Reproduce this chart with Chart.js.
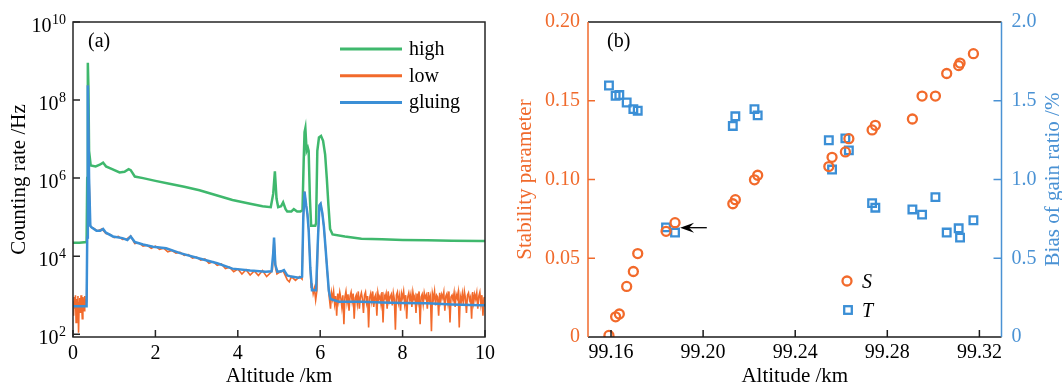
<!DOCTYPE html>
<html><head><meta charset="utf-8">
<script src="https://cdn.jsdelivr.net/npm/chart.js@4.4.0/dist/chart.umd.min.js"></script>
<style>
html,body{margin:0;padding:0;background:#fff;}
#wrap{position:relative;width:1062px;height:385px;overflow:hidden;}
#ca{position:absolute;left:0;top:0;}
#cb{position:absolute;left:500px;top:0;}
</style></head><body>
<div id="wrap"><canvas id="ca" width="500" height="385"></canvas><canvas id="cb" width="562" height="385"></canvas></div>
<script>
// ---------- Panel (a): counting rate vs altitude ----------
const altHigh = [0,0.15,0.33,0.345,0.36,0.375,0.39,0.43,0.55,0.65,0.73,0.8,0.95,1.13,1.25,1.35,1.4,1.5,1.7,2.0,2.34,2.7,3.07,3.5,3.87,4.3,4.6,4.8,4.86,4.9,4.94,4.98,5.05,5.1,5.16,5.2,5.3,5.36,5.44,5.52,5.57,5.6,5.62,5.64,5.67,5.70,5.72,5.75,5.78,5.88,5.90,5.93,5.97,6.02,6.07,6.12,6.16,6.20,6.24,6.30,6.6,7.0,7.5,8.0,8.6,9.2,9.9,10];
const rateHigh = [2.2e4,2.2e4,2.3e4,1e6,9e8,2e8,5e6,2.1e6,2.0e6,2.2e6,2.5e6,2.0e6,1.7e6,1.4e6,1.45e6,1.7e6,1.6e6,1.1e6,1.0e6,8.5e5,7.2e5,6.0e5,4.9e5,3.6e5,2.75e5,2.2e5,1.9e5,1.8e5,4e5,1.5e6,3e5,1.8e5,1.9e5,2.4e5,1.6e5,1.4e5,1.4e5,1.6e5,1.4e5,1.4e5,1.5e5,3e6,1.5e7,1.9e7,5e6,6e6,5e6,3e5,6e4,6e4,7e4,5e6,1.1e7,1.2e7,9e6,4e6,1e6,2e5,5e4,3.6e4,3.2e4,2.8e4,2.7e4,2.6e4,2.55e4,2.5e4,2.45e4,2.45e4];

const altLow = [0,0.015,0.03,0.045,0.06,0.075,0.09,0.105,0.12,0.135,0.15,0.165,0.18,0.195,0.21,0.225,0.24,0.255,0.27,0.285,0.30,0.315,0.33,
0.345,0.36,0.39,0.42,0.45,
0.5,0.6,0.7,0.8,0.9,1.0,1.1,1.2,1.3,1.4,1.5,1.6,1.7,1.8,1.9,2.0,2.1,2.2,2.3,2.4,2.5,2.6,2.7,2.8,2.9,3.0,3.1,3.2,3.3,3.4,3.5,3.6,3.7,3.8,3.9,4.0,4.1,4.2,4.3,4.4,4.5,4.6,4.7,4.8,
4.84,4.88,4.92,4.95,5.0,5.1,5.2,5.25,5.3,5.4,5.5,
5.56,5.59,5.62,5.66,5.69,5.72,5.76,5.78,5.80,5.83,5.86,5.89,5.92,5.94,5.98,6.01,6.05,6.09,6.13,6.17,6.21,
6.25,6.275,6.3,6.325,6.35,6.375,6.4,6.425,6.45,6.475,
6.5,6.525,6.55,6.575,6.6,6.625,6.65,6.675,6.7,6.725,
6.75,6.775,6.8,6.825,6.85,6.875,6.9,6.925,6.95,6.975,
7.0,7.025,7.05,7.075,7.1,7.125,7.15,7.175,7.2,7.225,
7.25,7.275,7.3,7.325,7.35,7.375,7.4,7.425,7.45,7.475,
7.5,7.525,7.55,7.575,7.6,7.625,7.65,7.675,7.7,7.725,
7.75,7.775,7.8,7.825,7.85,7.875,7.9,7.925,7.95,7.975,
8.0,8.025,8.05,8.075,8.1,8.125,8.15,8.175,8.2,8.225,
8.25,8.275,8.3,8.325,8.35,8.375,8.4,8.425,8.45,8.475,
8.5,8.525,8.55,8.575,8.6,8.625,8.65,8.675,8.7,8.725,
8.75,8.775,8.8,8.825,8.85,8.875,8.9,8.925,8.95,8.975,
9.0,9.025,9.05,9.075,9.1,9.125,9.15,9.175,9.2,9.225,
9.25,9.275,9.3,9.325,9.35,9.375,9.4,9.425,9.45,9.475,
9.5,9.525,9.55,9.575,9.6,9.625,9.65,9.675,9.7,9.725,
9.75,9.775,9.8,9.825,9.85,9.875,9.9,9.925,9.95,9.975,
10.0];
const rateLow = [700,300,900,450,1000,200,800,550,950,110,650,850,350,1000,600,250,900,700,400,950,550,800,650,
3e4,2.4e8,1e6,6e4,5.4e4,
5.2e4,4.4e4,5.0e4,3.8e4,3.6e4,3.0e4,3.2e4,2.7e4,2.75e4,3.3e4,2.1e4,2.2e4,1.8e4,1.9e4,1.6e4,1.8e4,1.5e4,1.6e4,1.3e4,1.4e4,1.2e4,1.26e4,1.05e4,1.1e4,8.9e3,9.5e3,7.9e3,8.5e3,6.6e3,7.2e3,5.8e3,6.3e3,4.8e3,5.2e3,4.0e3,4.7e3,3.5e3,4.5e3,3.3e3,4.2e3,3.2e3,4.3e3,3.0e3,3.8e3,
4.5e3,2.8e4,4.8e3,3.5e3,3.8e3,4.2e3,2.5e3,2.2e3,3.0e3,2.4e3,3.0e3,
2.6e3,1e5,4.5e5,2e5,1.2e5,4.7e4,5e3,1.6e3,2.0e3,1.1e3,1.5e3,7.5e2,1.3e3,2e4,2e5,2.2e5,1.3e5,5.6e4,1.6e4,4.4e3,1.1e3,
450,1150,800,1250,600,950,300,1100,700,1200,
850,500,1000,180,900,1250,650,1050,400,950,
1200,700,1100,250,850,1000,600,1250,450,900,
1150,800,350,1000,1200,650,950,150,850,1100,
700,1250,500,900,1050,300,1150,800,950,600,
1200,200,1000,850,1100,450,1250,700,900,1050,
550,1150,800,130,1000,1200,650,950,400,1100,
850,1250,600,1000,250,900,1150,750,1050,500,
1200,800,950,350,1100,700,1250,180,900,1050,
600,1150,850,1000,450,1200,750,950,120,1100,
800,1250,550,1000,900,300,1150,700,1050,850,
1200,400,950,1100,650,1250,200,900,1000,750,
1150,500,1050,850,1200,150,950,700,1100,600,
1250,850,350,1000,1150,750,900,250,1200,650,
1050,800,1150,450,950,1200,600,1000,300,850,
900];

const altGlue = [0,0.33,0.345,0.36,0.39,0.42,0.45,0.57,0.66,0.73,0.8,0.97,1.2,1.32,1.4,1.5,1.7,1.94,2.26,2.6,3.07,3.5,3.87,4.3,4.68,4.82,4.86,4.88,4.91,4.96,5.05,5.12,5.2,5.3,5.48,5.56,5.59,5.62,5.66,5.69,5.72,5.76,5.80,5.90,5.94,5.98,6.01,6.05,6.09,6.13,6.17,6.21,6.25,6.45,7.0,7.5,8.0,8.6,9.2,9.9,10];
const rateGlue = [520,520,3e4,2.4e8,1e6,6e4,5.5e4,4.5e4,4.5e4,5e4,4e4,3.2e4,2.9e4,2.6e4,3.2e4,2.3e4,2.0e4,1.75e4,1.6e4,1.2e4,8.7e3,6.6e3,4.8e3,4.3e3,4.0e3,4.1e3,1.2e4,3e4,6e3,4.0e3,4.1e3,4.4e3,3.2e3,3.0e3,2.8e3,3.0e3,1e5,4.5e5,2e5,1.2e5,4.7e4,5e3,1.35e3,1.35e3,2e4,2e5,2.2e5,1.3e5,5.6e4,1.6e4,4.4e3,1.3e3,8e2,6.8e2,6.8e2,6.5e2,6.3e2,6.2e2,5.8e2,5.5e2,5.5e2];

const seriesNamesA = ['high','low','gluing'];
const xTicksA = [0,2,4,6,8,10];
const yTicksA = [1e2,1e4,1e6,1e8,1e10];

// ---------- Panel (b): stability parameter and gain-ratio bias ----------
const altB = [99.1591,99.1620,99.1636,99.1668,99.1697,99.1716,99.1839,99.1878,99.2129,99.2140,99.2223,99.2237,99.2546,99.2560,99.2618,99.2633,99.2734,99.2748,99.2909,99.2951,99.3009,99.3058,99.3110,99.3116,99.3174];
const stabilityS = [0.001,0.0128,0.0146,0.0321,0.0416,0.0530,0.0671,0.0726,0.0846,0.0872,0.0998,0.1027,0.1082,0.1141,0.1175,0.1259,0.1315,0.1344,0.1384,0.1530,0.1530,0.1673,0.1723,0.1739,0.1799];
const biasT = [1.597,1.532,1.536,1.489,1.447,1.437,0.696,0.663,1.340,1.401,1.447,1.407,1.249,1.063,1.261,1.185,0.850,0.821,0.810,0.777,0.888,0.663,0.690,0.631,0.741];
const seriesNamesB = ['S','T'];
const xTicksB = [99.16,99.20,99.24,99.28,99.32];
const xTickLabelsB = ['99.16','99.20','99.24','99.28','99.32'];
const yTicksS = [0,0.05,0.10,0.15,0.20];
const yTickLabelsS = ['0','0.05','0.10','0.15','0.20'];
const yTicksT = [0,0.5,1.0,1.5,2.0];
const yTickLabelsT = ['0','0.5','1.0','1.5','2.0'];
const arrowFrom = [99.2016,0.0694];
const arrowTo = [99.1900,0.0694];

// ---------- styles ----------
const FONT = "'Liberation Serif','Times New Roman',serif";
const GREEN = '#3fb86d', ORANGE = '#f26a2b', BLUE = '#3b8fd6';
const AX_ORANGE = '#f06a2c', AX_BLUE = '#4a92d4';
Chart.defaults.font.family = FONT;

const pts = (xs, ys) => xs.map((x, i) => ({x, y: ys[i]}));

// ---------- chart (a) ----------
const decorA = {
  id: 'decorA',
  afterDraw(chart) {
    const {ctx, chartArea: a, scales: {x, y}} = chart;
    ctx.save();
    ctx.strokeStyle = '#262626'; ctx.lineWidth = 1.5;
    ctx.strokeRect(a.left, a.top, a.right - a.left, a.bottom - a.top);
    ctx.beginPath();
    xTicksA.forEach(v => { const p = x.getPixelForValue(v); ctx.moveTo(p, a.bottom); ctx.lineTo(p, a.bottom - 7); });
    yTicksA.forEach(v => { const p = y.getPixelForValue(v); ctx.moveTo(a.left, p); ctx.lineTo(a.left + 7, p); });
    ctx.stroke();
    // log tick labels 10^n
    ctx.fillStyle = '#000'; ctx.textBaseline = 'alphabetic'; ctx.textAlign = 'right';
    yTicksA.forEach(v => {
      const p = y.getPixelForValue(v);
      const e = String(Math.round(Math.log10(v)));
      ctx.font = '14px ' + FONT;
      const ew = ctx.measureText(e).width;
      const r = a.left - 7;
      ctx.fillText(e, r, p + 2);
      ctx.font = '20px ' + FONT;
      ctx.fillText('10', r - ew - 0.5, p + 10);
    });
    // legend
    ctx.textAlign = 'left';
    chart.data.datasets.forEach((ds, i) => {
      const ly = a.top + 27 + i * 26.7;
      ctx.strokeStyle = ds.borderColor; ctx.lineWidth = 3;
      ctx.beginPath(); ctx.moveTo(a.left + 267, ly); ctx.lineTo(a.left + 329, ly); ctx.stroke();
      ctx.font = '20px ' + FONT; ctx.fillStyle = '#000';
      ctx.fillText(ds.label, a.left + 336, ly + 6);
    });
    ctx.font = '20px ' + FONT;
    ctx.fillText('(a)', a.left + 15, a.top + 25);
    ctx.restore();
  }
};

new Chart(document.getElementById('ca'), {
  type: 'line',
  data: {
    datasets: [
      {label: seriesNamesA[0], data: pts(altHigh, rateHigh), borderColor: GREEN, borderWidth: 2.5, pointRadius: 0, order: 3},
      {label: seriesNamesA[1], data: pts(altLow, rateLow), borderColor: ORANGE, borderWidth: 1.6, pointRadius: 0, order: 2},
      {label: seriesNamesA[2], data: pts(altGlue, rateGlue), borderColor: BLUE, borderWidth: 2.5, pointRadius: 0, order: 1}
    ]
  },
  options: {
    responsive: false, animation: false,
    layout: {padding: {left: 0, right: 13, top: 22, bottom: 0}},
    plugins: {legend: {display: false}, tooltip: {enabled: false}},
    scales: {
      x: {
        type: 'linear', min: 0, max: 10,
        afterBuildTicks: s => { s.ticks = xTicksA.map(v => ({value: v})); },
        grid: {display: false, drawTicks: false}, border: {display: false},
        ticks: {color: '#000', font: {size: 20}, padding: 5, maxRotation: 0, autoSkip: false},
        title: {display: true, text: 'Altitude /km', color: '#000', font: {size: 21, lineHeight: 1}, padding: {top: 0, bottom: -2}},
        afterFit: s => { s.height = 48; }
      },
      y: {
        type: 'logarithmic', min: 85, max: 1e10,
        afterBuildTicks: s => { s.ticks = yTicksA.map(v => ({value: v})); },
        grid: {display: false, drawTicks: false}, border: {display: false},
        ticks: {display: false},
        title: {display: true, text: 'Counting rate /Hz', color: '#000', font: {size: 21}, padding: {top: 7, bottom: 0}},
        afterFit: s => { s.width = 73; }
      }
    }
  },
  plugins: [decorA]
});

// ---------- chart (b) ----------
const decorB = {
  id: 'decorB',
  afterDraw(chart) {
    const {ctx, chartArea: a, scales: {x, y, y1}} = chart;
    ctx.save();
    ctx.lineWidth = 1.5;
    const line = (c, x0, y0, x1, y1_) => { ctx.strokeStyle = c; ctx.beginPath(); ctx.moveTo(x0, y0); ctx.lineTo(x1, y1_); ctx.stroke(); };
    line('#1a1a1a', a.left, a.top, a.right, a.top);
    line('#1a1a1a', a.left, a.bottom, a.right, a.bottom);
    line(AX_ORANGE, a.left, a.top, a.left, a.bottom);
    line(AX_BLUE, a.right, a.top, a.right, a.bottom);
    xTicksB.forEach(v => { const p = x.getPixelForValue(v); line('#1a1a1a', p, a.bottom, p, a.bottom - 7); });
    yTicksS.slice(1, -1).forEach(v => { const p = y.getPixelForValue(v); line(AX_ORANGE, a.left, p, a.left + 7, p); });
    yTicksT.slice(1, -1).forEach(v => { const p = y1.getPixelForValue(v); line(AX_BLUE, a.right, p, a.right - 8, p); });
    // right axis title (reads bottom to top)
    ctx.save();
    ctx.translate(chart.width - 9, (a.top + a.bottom) / 2);
    ctx.rotate(-Math.PI / 2);
    ctx.fillStyle = AX_BLUE; ctx.font = '21px ' + FONT; ctx.textAlign = 'center'; ctx.textBaseline = 'middle';
    ctx.fillText('Bias of gain ratio /%', 0, 0);
    ctx.restore();
    // arrow
    const tx = x.getPixelForValue(arrowFrom[0]), ty = y.getPixelForValue(arrowFrom[1]);
    const hx = x.getPixelForValue(arrowTo[0]), hy = y.getPixelForValue(arrowTo[1]);
    ctx.strokeStyle = '#000'; ctx.lineWidth = 1.3;
    ctx.beginPath(); ctx.moveTo(tx, ty); ctx.lineTo(hx + 8, hy); ctx.stroke();
    ctx.fillStyle = '#000';
    ctx.beginPath(); ctx.moveTo(hx, hy); ctx.lineTo(hx + 14, hy - 5); ctx.lineTo(hx + 9, hy); ctx.lineTo(hx + 14, hy + 5); ctx.closePath(); ctx.fill();
    // legend
    const lx = a.left + 259, ly0 = a.top + 259;
    ctx.lineWidth = 2.3;
    ctx.strokeStyle = ORANGE;
    ctx.beginPath(); ctx.arc(lx, ly0, 4.5, 0, Math.PI * 2); ctx.stroke();
    ctx.strokeStyle = BLUE;
    ctx.strokeRect(lx + 1 - 3.8, ly0 + 29 - 3.8, 7.6, 7.6);
    ctx.fillStyle = '#000'; ctx.font = 'italic 20px ' + FONT; ctx.textAlign = 'left'; ctx.textBaseline = 'alphabetic';
    ctx.fillText(seriesNamesB[0], lx + 15, ly0 + 7);
    ctx.fillText(seriesNamesB[1], lx + 15, ly0 + 36);
    ctx.font = '20px ' + FONT;
    ctx.fillText('(b)', a.left + 19, a.top + 25);
    ctx.restore();
  }
};

new Chart(document.getElementById('cb'), {
  type: 'scatter',
  data: {
    datasets: [
      {label: seriesNamesB[0], data: pts(altB, stabilityS), yAxisID: 'y', pointStyle: 'circle', pointRadius: 4.5, pointBorderWidth: 2.3, borderColor: ORANGE, backgroundColor: 'rgba(0,0,0,0)', pointBackgroundColor: 'rgba(0,0,0,0)'},
      {label: seriesNamesB[1], data: pts(altB, biasT), yAxisID: 'y1', pointStyle: 'rect', pointRadius: 5.4, pointBorderWidth: 2.3, borderColor: BLUE, backgroundColor: 'rgba(0,0,0,0)', pointBackgroundColor: 'rgba(0,0,0,0)'}
    ]
  },
  options: {
    responsive: false, animation: false,
    layout: {padding: {left: 0, right: 0, top: 22, bottom: 0}},
    plugins: {legend: {display: false}, tooltip: {enabled: false}},
    scales: {
      x: {
        type: 'linear', min: 99.15, max: 99.3296,
        afterBuildTicks: s => { s.ticks = xTicksB.map(v => ({value: v})); },
        grid: {display: false, drawTicks: false}, border: {display: false},
        ticks: {color: '#000', font: {size: 20}, padding: 4, maxRotation: 0, autoSkip: false, callback: (v, i) => xTickLabelsB[i]},
        title: {display: true, text: 'Altitude /km', color: '#000', font: {size: 21, lineHeight: 1}, padding: {top: 0, bottom: -2}},
        afterFit: s => { s.height = 48; }
      },
      y: {
        position: 'left', min: 0, max: 0.2,
        afterBuildTicks: s => { s.ticks = yTicksS.map(v => ({value: v})); },
        grid: {display: false, drawTicks: false}, border: {display: false},
        ticks: {color: AX_ORANGE, font: {size: 20}, padding: 8, autoSkip: false, callback: (v, i) => yTickLabelsS[i]},
        title: {display: true, text: 'Stability parameter', color: AX_ORANGE, font: {size: 21}, padding: {top: 13, bottom: 0}},
        afterFit: s => { s.width = 88; }
      },
      y1: {
        position: 'right', min: 0, max: 2,
        afterBuildTicks: s => { s.ticks = yTicksT.map(v => ({value: v})); },
        grid: {display: false, drawTicks: false}, border: {display: false},
        ticks: {color: AX_BLUE, font: {size: 20}, padding: 10, autoSkip: false, callback: (v, i) => yTickLabelsT[i]},
        title: {display: false},
        afterFit: s => { s.width = 60.5; }
      }
    }
  },
  plugins: [decorB]
});
</script>
</body></html>
